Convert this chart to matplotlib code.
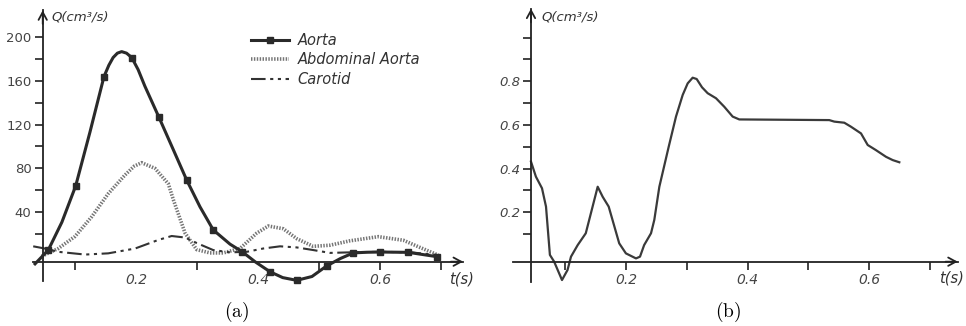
import numpy as np
import matplotlib.pyplot as plt

plt.rcParams['font.family'] = ['DejaVu Sans']
plt.rcParams['mathtext.fontset'] = 'cm'

# (a) flow waveforms
aorta_t = [0.034, 0.0557, 0.078, 0.1006, 0.124, 0.147, 0.155, 0.162, 0.169, 0.176, 0.184,
           0.1925, 0.203, 0.214, 0.2372, 0.2607, 0.2826, 0.3044, 0.3262, 0.3536, 0.3738,
           0.3946, 0.419, 0.44, 0.463, 0.488, 0.512, 0.535, 0.5557, 0.578, 0.6, 0.646, 0.6925]
aorta_q = [-7, 5.6, 31, 64, 113, 163.6, 174, 181, 185, 186.4, 185,
           181, 170, 155, 126.5, 97, 69.4, 45, 23.9, 11, 4,
           -5, -14.1, -19.5, -22, -18.5, -8.9, -2, 3, 3.6, 3.8, 3.5, -0.4]
aorta_mark = [0, 1, 0, 1, 0, 1, 0, 0, 0, 0, 0,
              1, 0, 0, 1, 0, 1, 0, 1, 0, 1,
              0, 1, 0, 1, 0, 1, 0, 1, 0, 1, 1, 1]

abd_t = [0.045, 0.072, 0.0995, 0.127, 0.154, 0.1815, 0.1965, 0.2088, 0.2307, 0.2525,
         0.261, 0.28, 0.299, 0.3208, 0.3426, 0.37, 0.3974, 0.4164, 0.441, 0.463,
         0.49, 0.5175, 0.55, 0.5967, 0.638, 0.665, 0.695]
abd_q = [0, 7, 18, 36, 57, 74, 82, 85.2, 80, 66,
         51, 21, 6, 3, 3, 7, 21, 27.5, 25, 16,
         9, 10, 14, 17.8, 14.5, 8, 1]

car_t = [0.031, 0.05, 0.072, 0.116, 0.154, 0.198, 0.236, 0.258, 0.28, 0.299,
         0.326, 0.3536, 0.381, 0.408, 0.4356, 0.463, 0.49, 0.5175, 0.55, 0.6, 0.65, 0.695]
car_q = [9, 7, 4, 1.5, 2.6, 7, 14.8, 18.4, 17, 12,
         5.6, 3.5, 4, 7, 9, 8, 5.6, 3, 3.5, 4, 3.5, 1]

# (b) single waveform
b_t = [0.0439, 0.052, 0.062, 0.0686, 0.075, 0.082, 0.0949, 0.104, 0.1097, 0.1207,
       0.134, 0.1536, 0.1618, 0.1717, 0.189, 0.2, 0.2166, 0.2232, 0.23, 0.2413,
       0.2467, 0.255, 0.2704, 0.2824, 0.2934, 0.3016, 0.3098, 0.3164, 0.3252, 0.3345,
       0.3482, 0.3618, 0.3756, 0.3865, 0.5345, 0.5428, 0.5592, 0.570, 0.5867, 0.5977,
       0.611, 0.6278, 0.6388, 0.6497]
b_q = [0.432, 0.363, 0.31, 0.226, 0.005, -0.026, -0.11, -0.064, -0.003, 0.05,
       0.104, 0.317, 0.271, 0.226, 0.058, 0.012, -0.011, -0.003, 0.05, 0.104,
       0.165, 0.317, 0.5, 0.638, 0.737, 0.79, 0.816, 0.81, 0.772, 0.745,
       0.722, 0.683, 0.638, 0.625, 0.622, 0.615, 0.61, 0.592, 0.561, 0.508,
       0.485, 0.454, 0.439, 0.429]

x_labels = ['0.2', '0.4', '0.6']
x_label_pos = [0.2, 0.4, 0.6]

W, H = 966, 326
fig = plt.figure(figsize=(W / 100, H / 100), dpi=100)

TXT = '#444444'
AX = '#222222'


def px_axes(x0, x1, y0, y1):
    # axes placed by pixel box (top-left origin)
    return fig.add_axes([x0 / W, 1 - y1 / H, (x1 - x0) / W, (y1 - y0) / H])


def arrow_axes(ax, y0, x_end, x_tip, ybot, ytip, xaxis_at):
    for s in ['top', 'right']:
        ax.spines[s].set_visible(False)
    ax.spines['left'].set_position(('data', y0))
    ax.spines['bottom'].set_position(('data', xaxis_at))
    ax.spines['left'].set_bounds(ybot, ytip)
    ax.spines['bottom'].set_bounds(x_end, x_tip)
    for s in ['left', 'bottom']:
        ax.spines[s].set_color(AX)
        ax.spines[s].set_linewidth(1.3)
    ap = dict(arrowstyle='->,head_length=0.55,head_width=0.3', lw=1.3, color=AX,
              shrinkA=0, shrinkB=0)
    ax.annotate('', xy=(x_tip, xaxis_at), xytext=(x_tip - 0.02, xaxis_at), arrowprops=ap,
                annotation_clip=False)
    dy = (ytip - ybot) * 0.05
    ax.annotate('', xy=(y0, ytip), xytext=(y0, ytip - dy), arrowprops=ap,
                annotation_clip=False)
    ax.xaxis.remove_overlapping_locs = False
    ax.tick_params(axis='both', which='major', direction='out', length=6, width=1.2,
                   color=AX, labelcolor=TXT)
    ax.tick_params(axis='x', which='major', labelbottom=False)


def x_tick_labels(ax):
    ax.set_xticks(x_label_pos, x_labels, minor=True)
    ax.tick_params(axis='x', which='minor', length=0, pad=8, labelsize=10, labelcolor=TXT)
    for lab in ax.get_xticklabels(minor=True):
        lab.set_style('italic')


# ---- panel (a)
ax = px_axes(20, 475, 5, 290)
ax.set_xlim((20 - 14.3) / 610, (475 - 14.3) / 610)
ax.set_ylim((256.2 - 290) / 1.0975, (256.2 - 5) / 1.0975)

ax.plot(abd_t, abd_q, color='#767676', lw=2.6, ls=(0, (0.4, 0.4)), label='Abdominal Aorta')
ax.plot(car_t, car_q, color='#333333', lw=1.5, ls=(0, (7, 2.2, 1.5, 2.2, 1.5, 2.2)), label='Carotid')
ax.plot(aorta_t, aorta_q, color='#2a2a2a', lw=2.2, marker='s', ms=4.5,
        markevery=np.array(aorta_mark, dtype=bool), solid_joinstyle='round', label='Aorta', zorder=4)

arrow_axes(ax, 0.0466, (33 - 14.3) / 610, (463 - 14.3) / 610, -23, 224, -5)
ax.set_yticks(np.arange(20, 201, 20))
ax.set_yticklabels([str(v) if v % 40 == 0 else '' for v in range(20, 201, 20)], fontsize=9.5)
ax.set_xticks([0.1, 0.3, 0.5, 0.6, 0.7])
x_tick_labels(ax)
ax.tick_params(axis='y', pad=2)

fig.text(51.5 / W, 1 - 17 / H, 'Q(cm³/s)', fontsize=9.5, style='italic', color='#333333', va='center')
fig.text(462 / W, 1 - 279 / H, 't(s)', fontsize=10.5, style='italic',
         color='#333333', ha='center', va='center')

h, l = ax.get_legend_handles_labels()
order = [2, 0, 1]
leg = ax.legend([h[i] for i in order], [l[i] for i in order], loc='upper left',
                bbox_to_anchor=(251 / W, 1 - 33 / H), bbox_transform=fig.transFigure,
                frameon=False, borderpad=0, borderaxespad=0, handlelength=2.6,
                handletextpad=0.6, labelspacing=0.3, prop={'size': 10.5, 'style': 'italic'})
for t in leg.get_texts():
    t.set_color('#333333')

fig.text(236.7 / W, 1 - 311.7 / H, r'$\mathrm{(a)}$', fontsize=14, ha='center', va='center')

# ---- panel (b)
bx = px_axes(500, 966, 5, 290)
bx.set_xlim((500 - 504.3) / 608, (966 - 504.3) / 608)
bx.set_ylim((256 - 290) / 218.5, (256 - 5) / 218.5)

bx.plot(b_t, b_q, color='#3a3a3a', lw=1.6, solid_joinstyle='round')

arrow_axes(bx, 0.0439, (512.7 - 504.3) / 608, (957.7 - 504.3) / 608, -0.117, 1.132, -0.026)
yt = np.round(np.arange(0.1, 1.01, 0.1), 1)
bx.set_yticks(yt)
bx.set_yticklabels(['%.1f' % v if v in (0.2, 0.4, 0.6, 0.8) else '' for v in yt], fontsize=9.5)
for lab in bx.get_yticklabels():
    lab.set_style('italic')
bx.set_xticks([0.1, 0.2, 0.3, 0.4, 0.5, 0.6, 0.7])
x_tick_labels(bx)
bx.tick_params(axis='y', pad=2)

fig.text(541 / W, 1 - 17 / H, 'Q(cm³/s)', fontsize=9.5, style='italic', color='#333333', va='center')
fig.text(951 / W, 1 - 278.3 / H, 't(s)', fontsize=10.5, style='italic',
         color='#333333', ha='center', va='center')

fig.text(727.7 / W, 1 - 311.7 / H, r'$\mathrm{(b)}$', fontsize=14, ha='center', va='center')

fig.savefig('out.png', dpi=100)
